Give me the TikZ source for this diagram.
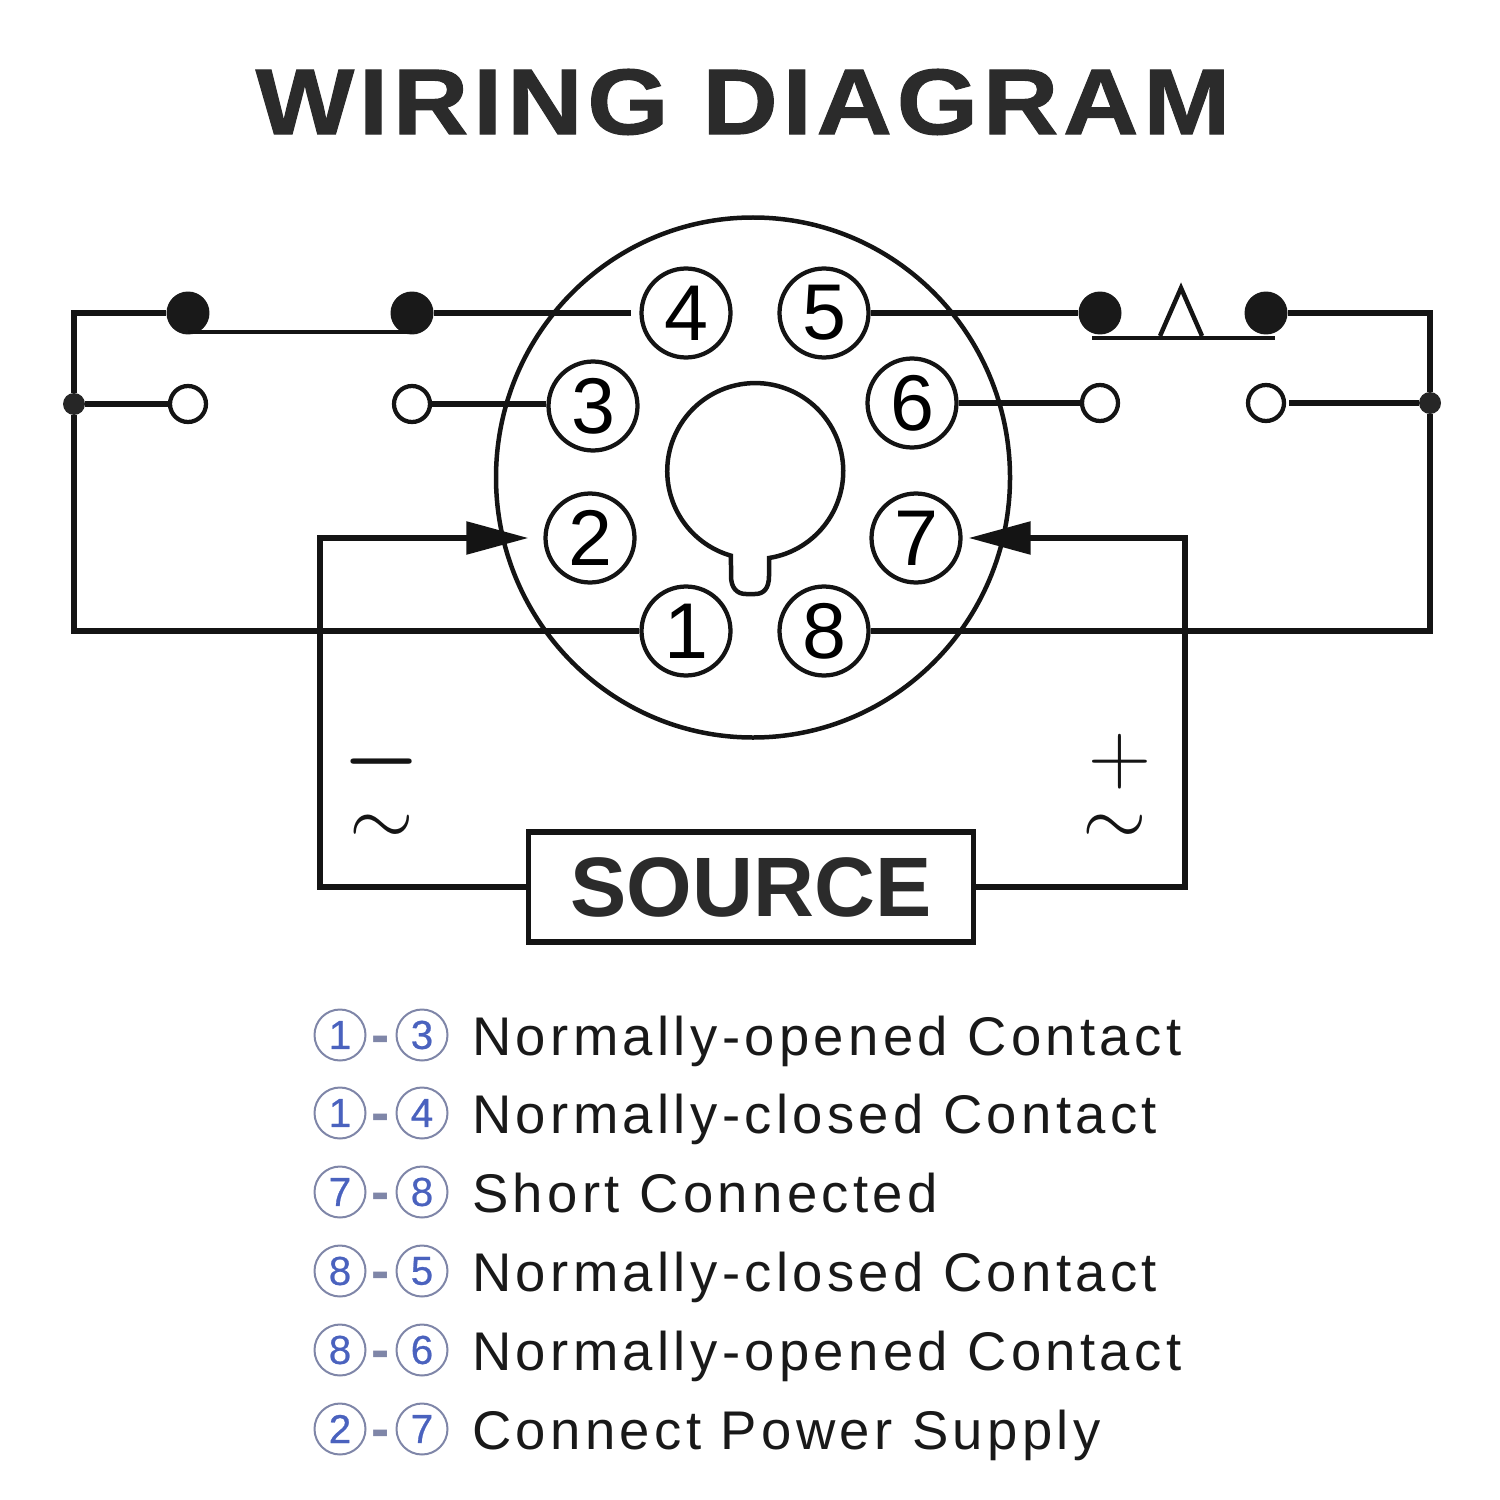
\documentclass[tikz,border=0pt]{standalone}
\usepackage{fontspec}
\usepackage{graphicx}
\setmainfont{Liberation Sans}
\newfontfamily\legendfont[LetterSpace=8]{Liberation Sans}
\newfontfamily\legendnumfont[FakeBold=0.6]{Liberation Sans}
\newfontfamily\titlefont[FakeStretch=1.12,FakeBold=1.2,LetterSpace=5.3]{Liberation Sans Bold}
\usetikzlibrary{arrows.meta}
\definecolor{inkgray}{HTML}{2B2B2B}
\definecolor{legendblue}{HTML}{4A62BE}
\definecolor{legendring}{HTML}{7F86A8}
\tikzset{
    wire/.style={line width=1.1mm,black!92},
    thinwire/.style={line width=0.9mm,black!92},
    pinring/.style={circle,draw=black!92,line width=0.85mm,minimum size=1.78cm,inner sep=0pt,font=\fontsize{45}{45}\selectfont},
    closedpad/.style={circle,fill=black!90,minimum size=0.86cm,inner sep=0pt},
    openpad/.style={circle,draw=black!92,fill=white,line width=0.85mm,minimum size=0.72cm,inner sep=0pt},
    joint/.style={circle,fill=black!85,minimum size=0.44cm,inner sep=0pt},
    legendnum/.style={circle,draw=legendring,line width=0.4mm,minimum size=1.02cm,inner sep=0pt,text=legendblue,font=\fontsize{23}{23}\selectfont\legendnumfont},
    legenddash/.style={anchor=base,inner sep=0pt,text=legendring,font=\fontsize{31}{31}\selectfont\bfseries},
    legendtext/.style={anchor=base west,inner sep=0pt,text=black!90,font=\fontsize{31}{31}\selectfont\legendfont},
    signmark/.style={inner sep=0pt,text=black!92}
}
\begin{document}
\begin{tikzpicture}[x=0.02cm,y=-0.02cm]
    \useasboundingbox (0,0) rectangle (1500,1500);

    \node (title) at (743,102)[inner sep=0pt,text=inkgray,font=\fontsize{53}{53}\selectfont\titlefont]{WIRING DIAGRAM};

    % socket
    \coordinate (centre) at (753,477.5);
    \draw[thinwire] (centre) ellipse [x radius=257,y radius=260];
    \draw[thinwire] (769,558) arc (81:-254:88) -- (731,576) .. controls (731,588) and (737,594) .. (746,594)
        -- (755,594) .. controls (764,594) and (769,588) .. (769,576) -- cycle;

    \node (p4) at (686,313)[pinring]{4};
    \node (p5) at (824,313)[pinring]{5};
    \node (p3) at (593,406)[pinring]{3};
    \node (p6) at (912,403)[pinring]{6};
    \node (p2) at (590,538)[pinring]{2};
    \node (p7) at (916,538)[pinring]{7};
    \node (p1) at (686,631)[pinring]{1};
    \node (p8) at (824,631)[pinring]{8};

    % contacts
    \node (nca) at (188,313)[closedpad]{};
    \node (ncb) at (412,313)[closedpad]{};
    \node (noa) at (188,404)[openpad]{};
    \node (nob) at (412,404)[openpad]{};
    \node (ncc) at (1100,313)[closedpad]{};
    \node (ncd) at (1266,313)[closedpad]{};
    \node (noc) at (1100,403)[openpad]{};
    \node (nod) at (1266,403)[openpad]{};
    \node (jl) at (74,404)[joint]{};
    \node (jr) at (1430,403)[joint]{};

    \draw[thinwire] (188,332) -- (412,332);
    \draw[thinwire] (1092,338) -- (1275,338);
    \draw[thinwire] (1160,336) -- (1181,288) -- (1202,336);

    \draw[wire] (nca) -- (74,313) -- (jl);
    \draw[wire] (jl) -- (noa);
    \draw[wire] (jl) -- (74,631) -- (p1);
    \draw[wire,shorten >=0.16cm] (ncb) -- (p4);
    \draw[wire] (nob) -- (nob -| p3.west);
    \draw[wire] (p5) -- (ncc);
    \draw[wire] (p6) -- (noc);
    \draw[wire] (ncd) -- (1430,313) -- (jr);
    \draw[wire,shorten >=0.06cm] (jr) -- (nod);
    \draw[wire] (jr) -- (1430,631) -- (p8);

    % supply
    \node (source) at (751,887)[draw=black!92,line width=1.1mm,minimum width=8.9cm,minimum height=2.2cm,inner sep=0pt,text=inkgray,font=\fontsize{48}{48}\selectfont\bfseries]{SOURCE};
    \draw[wire,-{Triangle[length=1.24cm,width=0.64cm]},shorten >=0.3cm] (source.west) -- (320,887) -- (320,538) -- (p2);
    \draw[wire,-{Triangle[length=1.24cm,width=0.64cm]},shorten >=0.12cm] (source.east) -- (1185,887) -- (1185,538) -- (p7);

    \node (minus) at (382,783)[signmark]{\scalebox{2}{\fontsize{46}{46}\selectfont\boldmath\smash{$-$}}};
    \node (tildel) at (382,845)[signmark]{\scalebox{1.9}{\fontsize{46}{46}\selectfont\smash{$\sim$}}};
    \node (plus) at (1120,783)[signmark]{\scalebox{2}{\fontsize{46}{46}\selectfont\smash{$+$}}};
    \node (tilder) at (1115,845)[signmark]{\scalebox{1.9}{\fontsize{46}{46}\selectfont\smash{$\sim$}}};

    % legend
    \node (la) at (340,1035)[legendnum]{1};
    \node (lb) at (422,1035)[legendnum]{3};
    \node (lc) at (381,1053)[legenddash]{-};
    \node (ld) at (472,1055)[legendtext]{Normally-opened Contact};

    \node (le) at (340,1113)[legendnum]{1};
    \node (lf) at (422,1113)[legendnum]{4};
    \node (lg) at (381,1131)[legenddash]{-};
    \node (lh) at (472,1133)[legendtext]{Normally-closed Contact};

    \node (li) at (340,1192)[legendnum]{7};
    \node (lj) at (422,1192)[legendnum]{8};
    \node (lk) at (381,1210)[legenddash]{-};
    \node (ll) at (472,1212)[legendtext]{Short Connected};

    \node (lm) at (340,1271)[legendnum]{8};
    \node (ln) at (422,1271)[legendnum]{5};
    \node (lo) at (381,1289)[legenddash]{-};
    \node (lp) at (472,1291)[legendtext]{Normally-closed Contact};

    \node (lq) at (340,1350)[legendnum]{8};
    \node (lr) at (422,1350)[legendnum]{6};
    \node (ls) at (381,1368)[legenddash]{-};
    \node (lt) at (472,1370)[legendtext]{Normally-opened Contact};

    \node (lu) at (340,1429)[legendnum]{2};
    \node (lv) at (422,1429)[legendnum]{7};
    \node (lw) at (381,1447)[legenddash]{-};
    \node (lx) at (472,1449)[legendtext]{Connect Power Supply};
\end{tikzpicture}
\end{document}
